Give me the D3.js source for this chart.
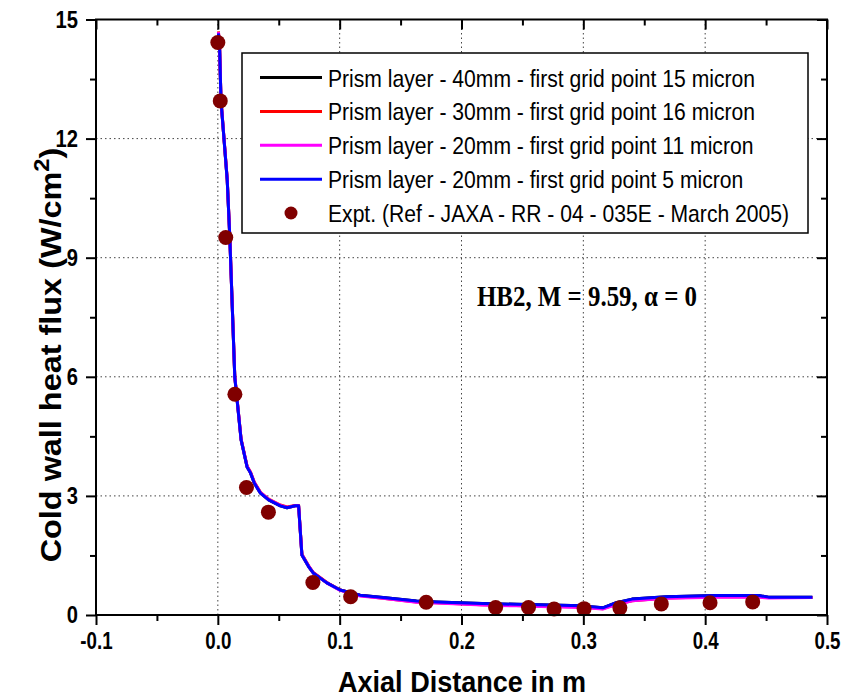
<!DOCTYPE html>
<html>
<head>
<meta charset="utf-8">
<script src="https://cdnjs.cloudflare.com/ajax/libs/d3/7.8.5/d3.min.js"></script>
<style>
  body { margin: 0; background: #fff; }
</style>
</head>
<body>
<svg id="chart" width="848" height="699" font-family="'Liberation Sans', Arial, sans-serif"></svg>
<script>
// ---- data ----
var xTicks = [-0.1, 0.0, 0.1, 0.2, 0.3, 0.4, 0.5];
var xMinor = [-0.05, 0.05, 0.15, 0.25, 0.35, 0.45];
var yTicks = [0, 3, 6, 9, 12, 15];
var yMinor = [1.5, 4.5, 7.5, 10.5, 13.5];
var xGrid = [0.0, 0.1, 0.2, 0.3, 0.4];
var yGrid = [3, 6, 9, 12];

// CFD curves (shared axial stations)
var cfdX = [0.0005, 0.0015, 0.0026, 0.0077, 0.0098, 0.0139, 0.0153, 0.0191, 0.024, 0.0268,
            0.030, 0.035, 0.0417, 0.0513, 0.0568, 0.0636, 0.0663, 0.069, 0.0745, 0.0783,
            0.0895, 0.1004, 0.1168, 0.1356, 0.163, 0.1795, 0.217, 0.245, 0.272, 0.299,
            0.316, 0.327, 0.340, 0.368, 0.409, 0.444, 0.452, 0.488];
var prism40_15 = [14.66, 14.23, 12.95, 10.96, 9.53, 6.0, 5.57, 4.41, 3.73, 3.58,
                  3.32, 3.07, 2.9, 2.75, 2.7, 2.75, 2.75, 1.51, 1.22, 1.06,
                  0.81, 0.63, 0.5, 0.44, 0.35, 0.33, 0.29, 0.27, 0.25, 0.23,
                  0.18, 0.31, 0.4, 0.46, 0.49, 0.49, 0.45, 0.45];
var prism30_16 = [14.7, 14.25, 12.97, 10.98, 9.55, 6.02, 5.59, 4.43, 3.75, 3.6,
                  3.34, 3.09, 2.92, 2.77, 2.72, 2.76, 2.76, 1.53, 1.24, 1.07,
                  0.82, 0.63, 0.49, 0.42, 0.33, 0.31, 0.26, 0.24, 0.22, 0.2,
                  0.16, 0.27, 0.36, 0.43, 0.46, 0.46, 0.44, 0.44];
var prism20_11 = [14.68, 14.24, 12.96, 10.97, 9.54, 6.01, 5.58, 4.42, 3.74, 3.59,
                  3.33, 3.08, 2.91, 2.76, 2.71, 2.75, 2.75, 1.52, 1.23, 1.06,
                  0.81, 0.62, 0.48, 0.42, 0.32, 0.3, 0.25, 0.23, 0.21, 0.19,
                  0.15, 0.26, 0.36, 0.42, 0.45, 0.45, 0.43, 0.44];
var prism20_5 = [14.65, 14.23, 12.95, 10.96, 9.53, 6.0, 5.57, 4.41, 3.73, 3.58,
                 3.32, 3.07, 2.90, 2.75, 2.70, 2.75, 2.75, 1.51, 1.22, 1.06,
                 0.81, 0.63, 0.50, 0.44, 0.35, 0.33, 0.29, 0.27, 0.25, 0.23,
                 0.18, 0.31, 0.40, 0.46, 0.49, 0.49, 0.45, 0.45];

// experiment
var exptX = [0.0, 0.002, 0.0065, 0.014, 0.0235, 0.0415, 0.078, 0.109, 0.171,
             0.228, 0.255, 0.276, 0.3006, 0.33, 0.364, 0.404, 0.439];
var exptY = [14.42, 12.95, 9.51, 5.56, 3.21, 2.59, 0.82, 0.46, 0.32,
             0.19, 0.19, 0.15, 0.16, 0.18, 0.28, 0.31, 0.33];

var seriesNames = ["Prism layer - 40mm - first grid point 15 micron",
                   "Prism layer - 30mm - first grid point 16 micron",
                   "Prism layer - 20mm - first grid point 11 micron",
                   "Prism layer - 20mm - first grid point 5 micron"];
var seriesColors = ["#000000", "#ff0000", "#ff00ff", "#0000ff"];
var seriesValues = [prism40_15, prism30_16, prism20_11, prism20_5];
var exptName = "Expt. (Ref - JAXA - RR - 04 - 035E - March 2005)";

// ---- layout ----
var pl = 96, pr = 827, pt = 19.5, pb = 615;
var svg = d3.select("#chart");

var x = d3.scaleLinear().domain([-0.1, 0.5]).range([pl, pr]);
var y = d3.scaleLinear().domain([0, 15]).range([pb, pt]);

// squeeze text horizontally (the original font is narrow)
function squeeze(sel, f) {
  sel.each(function() {
    var w = this.getComputedTextLength();
    this.setAttribute("textLength", w * f);
    this.setAttribute("lengthAdjust", "spacingAndGlyphs");
  });
}

// grid
var grid = svg.append("g").attr("stroke", "#444").attr("stroke-width", 1)
  .attr("stroke-dasharray", "1.5,3");
grid.selectAll(".gx").data(xGrid).enter().append("line")
  .attr("x1", d => x(d)).attr("x2", d => x(d)).attr("y1", pt).attr("y2", pb);
grid.selectAll(".gy").data(yGrid).enter().append("line")
  .attr("x1", pl).attr("x2", pr).attr("y1", d => y(d)).attr("y2", d => y(d));

// curves
var line = d3.line().x(d => x(d[0])).y(d => y(d[1]));
seriesValues.forEach(function(vals, i) {
  svg.append("path")
    .datum(cfdX.map((v, j) => [v, vals[j]]))
    .attr("fill", "none")
    .attr("stroke", seriesColors[i])
    .attr("stroke-width", 3)
    .attr("stroke-linejoin", "round")
    .attr("d", line);
});

// experimental points
svg.append("g").selectAll("circle").data(exptX).enter().append("circle")
  .attr("cx", d => x(d))
  .attr("cy", (d, i) => y(exptY[i]))
  .attr("r", 7.5)
  .attr("fill", "#800000");

// frame
svg.append("rect").attr("x", pl).attr("y", pt)
  .attr("width", pr - pl).attr("height", pb - pt)
  .attr("fill", "none").attr("stroke", "#000").attr("stroke-width", 2);

// axes
function fmtX(d) { return d3.format(".1f")(d).replace("\u2212", "-"); }

var gxB = svg.append("g").attr("transform", "translate(0," + pb + ")")
  .call(d3.axisBottom(x).tickValues(xTicks).tickSize(10).tickSizeOuter(0).tickPadding(7).tickFormat(fmtX));
svg.append("g").attr("transform", "translate(0," + pb + ")")
  .call(d3.axisBottom(x).tickValues(xMinor).tickSize(6).tickSizeOuter(0).tickFormat(""));
svg.append("g").attr("transform", "translate(0," + pt + ")")
  .call(d3.axisTop(x).tickValues(xTicks).tickSize(-10).tickSizeOuter(0).tickFormat(""));
svg.append("g").attr("transform", "translate(0," + pt + ")")
  .call(d3.axisTop(x).tickValues(xMinor).tickSize(-6).tickSizeOuter(0).tickFormat(""));

var gyL = svg.append("g").attr("transform", "translate(" + pl + ",0)")
  .call(d3.axisLeft(y).tickValues(yTicks).tickSize(10).tickSizeOuter(0).tickPadding(8).tickFormat(d3.format("d")));
svg.append("g").attr("transform", "translate(" + pl + ",0)")
  .call(d3.axisLeft(y).tickValues(yMinor).tickSize(6).tickSizeOuter(0).tickFormat(""));
svg.append("g").attr("transform", "translate(" + pr + ",0)")
  .call(d3.axisRight(y).tickValues(yTicks).tickSize(-10).tickSizeOuter(0).tickFormat(""));
svg.append("g").attr("transform", "translate(" + pr + ",0)")
  .call(d3.axisRight(y).tickValues(yMinor).tickSize(-6).tickSizeOuter(0).tickFormat(""));

svg.selectAll(".domain").remove();
svg.selectAll(".tick line").attr("stroke", "#000").attr("stroke-width", 2);
svg.selectAll(".tick text").attr("font-family", "'Liberation Sans', Arial, sans-serif")
  .attr("font-size", 24).attr("font-weight", "bold").attr("fill", "#000");
squeeze(gxB.selectAll(".tick text"), 0.78);
squeeze(gyL.selectAll(".tick text"), 0.84);

// axis titles
var xt = svg.append("text")
  .attr("x", 462).attr("y", 692)
  .attr("text-anchor", "middle")
  .attr("font-size", 30).attr("font-weight", "bold")
  .text("Axial Distance in m");
xt.attr("textLength", 248).attr("lengthAdjust", "spacingAndGlyphs");

var yt = svg.append("text")
  .attr("text-anchor", "middle")
  .attr("font-size", 30).attr("font-weight", "bold");
yt.append("tspan").text("Cold wall heat flux (W/cm");
yt.append("tspan").attr("dy", -12).attr("font-size", 22).text("2");
yt.append("tspan").attr("dy", 12).text(")");
var ytw = yt.node().getComputedTextLength();
yt.attr("transform", "translate(61,355) rotate(-90) scale(" + (415 / ytw) + ",1)");

// annotation
svg.append("text")
  .attr("x", 477).attr("y", 306)
  .attr("font-family", "'Liberation Serif', 'Times New Roman', serif")
  .attr("font-size", 29).attr("font-weight", "bold")
  .attr("textLength", 220).attr("lengthAdjust", "spacingAndGlyphs")
  .text("HB2, M = 9.59, \u03b1 = 0");

// legend
var lg = svg.append("g");
lg.append("rect").attr("x", 242).attr("y", 53).attr("width", 566).attr("height", 180)
  .attr("fill", "#fff").attr("stroke", "#000").attr("stroke-width", 1.5);
var rowY = d3.scalePoint().domain(d3.range(5)).range([77.5, 213]);
var legendLabels = seriesNames.concat([exptName]);
seriesNames.forEach(function(name, i) {
  lg.append("line").attr("x1", 260).attr("x2", 322)
    .attr("y1", rowY(i)).attr("y2", rowY(i))
    .attr("stroke", seriesColors[i]).attr("stroke-width", 3);
});
lg.append("circle").attr("cx", 291).attr("cy", rowY(4)).attr("r", 6.5).attr("fill", "#800000");
lg.selectAll("text.lab").data(legendLabels).enter().append("text")
  .attr("class", "lab")
  .attr("transform", (d, i) => "translate(328," + (rowY(i) + 9) + ") scale(0.88,1)")
  .attr("font-size", 24)
  .text(d => d);
</script>
</body>
</html>
